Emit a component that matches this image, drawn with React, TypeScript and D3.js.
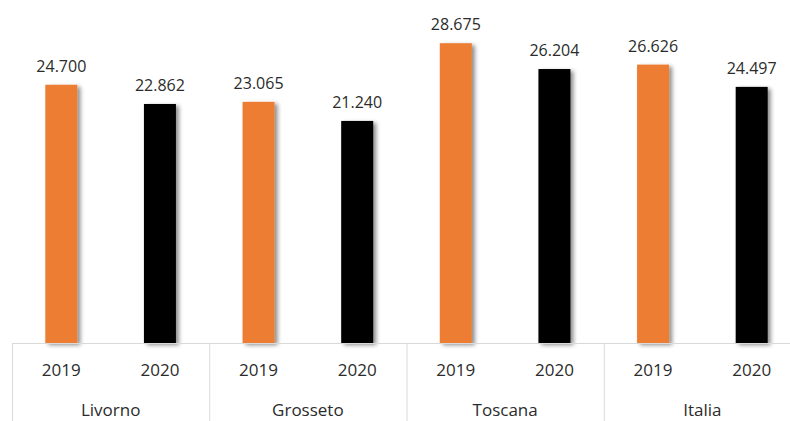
import React from "react";
import * as d3 from "d3";

const regions = ["Livorno", "Grosseto", "Toscana", "Italia"];
const years = ["2019", "2020"];
const values2019 = [24.7, 23.065, 28.675, 26.626];
const values2020 = [22.862, 21.24, 26.204, 24.497];
const barColors = ["#ED7D31", "#000000"];

const W = 790;
const H = 421;

export default function App() {
  const x0 = d3.scaleBand<string>().domain(regions).range([12, 801]).padding(0);
  const x1 = d3.scaleBand<string>().domain(years).range([0, x0.bandwidth()]).padding(0);
  const y = d3.scaleLinear().domain([0, 30]).range([343, 343 - 30 * 10.455]);
  const barW = 32;
  const fmt = (v: number) => v.toFixed(3);
  const series = [values2019, values2020];
  const font = "'Open Sans', sans-serif";
  const textColor = "#2b2b2b";

  return (
    <svg width={W} height={H} style={{ position: "absolute", left: 0, top: 0, background: "#fff" }}>
      <defs>
        <filter id="sh" x="-30%" y="-10%" width="180%" height="130%">
          <feDropShadow dx="3" dy="2" stdDeviation="2" floodColor="#000" floodOpacity="0.45" />
        </filter>
      </defs>
      {regions.map((r, i) =>
        years.map((yr, j) => {
          const v = series[j][i];
          const cx = (x0(r) as number) + (x1(yr) as number) + x1.bandwidth() / 2;
          return (
            <g key={r + yr}>
              <rect
                x={cx - barW / 2}
                y={y(v)}
                width={barW}
                height={y(0) - y(v)}
                fill={barColors[j]}
                filter="url(#sh)"
              />
              <text
                x={cx}
                y={y(v) - 13}
                textAnchor="middle"
                fontFamily={font}
                fontSize={16}
                fill={textColor}
              >
                {fmt(v)}
              </text>
              <text
                x={cx}
                y={376}
                textAnchor="middle"
                fontFamily={font}
                fontSize={17}
                fill={textColor}
              >
                {yr}
              </text>
            </g>
          );
        })
      )}
      <line x1={12} x2={801} y1={343.5} y2={343.5} stroke="#d9d9d9" strokeWidth={1} />
      {regions.map((r) => (
        <line
          key={"sep" + r}
          x1={(x0(r) as number) + 0.5}
          x2={(x0(r) as number) + 0.5}
          y1={343}
          y2={H}
          stroke="#d9d9d9"
          strokeWidth={1}
        />
      ))}
      {regions.map((r) => (
        <text
          key={"lab" + r}
          x={(x0(r) as number) + x0.bandwidth() / 2}
          y={416}
          textAnchor="middle"
          fontFamily={font}
          fontSize={17}
          fill={textColor}
        >
          {r}
        </text>
      ))}
    </svg>
  );
}
